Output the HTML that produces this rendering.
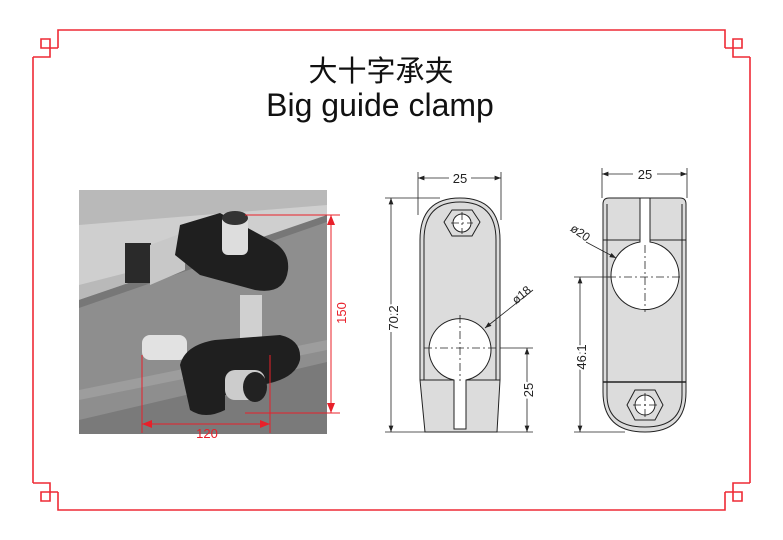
<!DOCTYPE html>
<html><head><meta charset="utf-8"><style>
html,body{margin:0;padding:0;background:#fff;}
svg{display:block}
text{font-family:"Liberation Sans","Noto Sans CJK SC",sans-serif;}
</style></head><body>
<svg width="783" height="540" viewBox="0 0 783 540" xmlns="http://www.w3.org/2000/svg">
<defs>
<marker id="ab" markerWidth="8" markerHeight="6" refX="8" refY="3" orient="auto-start-reverse"><path d="M0,0 L8,3 L0,6z" fill="#222"/></marker>
<marker id="ar" markerWidth="10" markerHeight="8" refX="10" refY="4" orient="auto-start-reverse" markerUnits="userSpaceOnUse"><path d="M0,0 L10,4 L0,8z" fill="#e8202a"/></marker>
</defs>
<g fill="none" stroke="#ee2a35" stroke-width="1.6">
<path d="M58,48 V30 H725 V48"/>
<path d="M58,492 V510 H725 V492"/>
<path d="M33,57 H50 V39 H41 V48 H58"/>
<path d="M33,57 V483"/>
<path d="M33,483 H50 V501 H41 V492 H58"/>
<path d="M750,57 H733 V39 H742 V48 H725"/>
<path d="M750,57 V483"/>
<path d="M750,483 H733 V501 H742 V492 H725"/>
</g>
<text x="381" y="81" font-size="29" text-anchor="middle" fill="#111">大十字承夹</text>
<text x="380" y="116" font-size="32" text-anchor="middle" fill="#111">Big guide clamp</text>
<!-- photo -->
<rect x="79" y="190" width="248" height="244" fill="#8e8e8e"/>
<polygon points="79,190 327,190 327,215 79,300" fill="#b9b9b9"/>
<polygon points="79,225 327,205 327,222 79,285" fill="#cfcfcf"/>
<polygon points="79,300 327,215 327,222 79,308" fill="#777"/>
<polygon points="79,390 327,340 327,350 79,400" fill="#9d9d9d"/>
<polygon points="79,420 327,362 327,434 79,434" fill="#7a7a7a"/>
<rect x="125" y="243" width="26" height="40" fill="#2a2a2a"/>
<polygon points="150,245 185,232 185,270 150,285" fill="#c8c8c8"/>
<path d="M180,225 L220,213 L270,240 Q290,250 288,270 Q285,295 255,290 L200,275 L175,255z" fill="#1f1f1f"/>
<rect x="222" y="215" width="26" height="40" rx="6" fill="#ddd"/>
<ellipse cx="235" cy="218" rx="13" ry="7" fill="#333"/>
<rect x="240" y="295" width="22" height="65" fill="#d0d0d0"/>
<rect x="142" y="335" width="45" height="25" rx="8" fill="#e2e2e2"/>
<path d="M180,365 Q185,345 215,340 L280,335 Q302,340 300,360 Q295,380 260,385 L225,395 L225,410 Q205,420 190,410z" fill="#1f1f1f"/>
<rect x="225" y="370" width="40" height="30" rx="10" fill="#ccc"/>
<ellipse cx="255" cy="387" rx="12" ry="15" fill="#222"/>
<g stroke="#e8202a" stroke-width="1" fill="none">
<line x1="245" y1="215" x2="340" y2="215"/>
<line x1="245" y1="413" x2="340" y2="413"/>
<line x1="331" y1="215" x2="331" y2="413" marker-start="url(#ar)" marker-end="url(#ar)"/>
<line x1="142" y1="355" x2="142" y2="433"/>
<line x1="270" y1="355" x2="270" y2="433"/>
<line x1="142" y1="424" x2="270" y2="424" marker-start="url(#ar)" marker-end="url(#ar)"/>
</g>
<text x="207" y="438" font-size="13" text-anchor="middle" fill="#e8202a">120</text>
<text transform="translate(346,313) rotate(-90)" font-size="13" text-anchor="middle" fill="#e8202a">150</text>
<!-- left drawing -->
<g stroke="#222" stroke-width="1" fill="#dcdcdc">
<path d="M420,240 Q420,198 460,198 Q500,198 500,240 L500,380 L497,432 L425,432 L420,380z"/>
</g>
<g stroke="#222" stroke-width="1" fill="none">
<path d="M424,240 Q424,202 460,202 Q496,202 496,240"/>
<line x1="420" y1="380" x2="500" y2="380"/>
<line x1="424" y1="240" x2="424" y2="380"/><line x1="496" y1="240" x2="496" y2="380"/>
</g>
<polygon points="452,210 472,210 480,222 472,236 452,236 444,222" fill="#dcdcdc" stroke="#222"/>
<circle cx="462" cy="223" r="9" fill="#fff" stroke="#222"/>
<path d="M454,380 A31,31 0 1 1 466,380 L466,429 L454,429z" fill="#fff" stroke="#222"/>
<g stroke="#222" stroke-width="0.8" stroke-dasharray="8,3,2,3" fill="none">
<line x1="424" y1="348" x2="497" y2="348"/><line x1="460" y1="315" x2="460" y2="381"/>
<line x1="462" y1="212" x2="462" y2="234"/><line x1="451" y1="223" x2="473" y2="223"/>
</g>
<g stroke="#222" stroke-width="0.8" fill="none">
<line x1="418" y1="172" x2="418" y2="215"/><line x1="501" y1="172" x2="501" y2="220"/>
<line x1="418" y1="178" x2="501" y2="178" marker-start="url(#ab)" marker-end="url(#ab)"/>
<line x1="385" y1="198" x2="440" y2="198"/><line x1="385" y1="432" x2="425" y2="432"/>
<line x1="391" y1="198" x2="391" y2="432" marker-start="url(#ab)" marker-end="url(#ab)"/>
<line x1="500" y1="348" x2="533" y2="348"/><line x1="497" y1="432" x2="533" y2="432"/>
<line x1="527" y1="348" x2="527" y2="432" marker-start="url(#ab)" marker-end="url(#ab)"/>
<line x1="533" y1="290" x2="485" y2="328" marker-end="url(#ab)"/>
</g>
<rect x="449" y="172" width="22" height="12" fill="#fff"/>
<text x="460" y="183" font-size="13" text-anchor="middle" fill="#222">25</text>
<text transform="translate(398,318) rotate(-90)" font-size="13" text-anchor="middle" fill="#222" style="paint-order:stroke" stroke="#fff" stroke-width="4">70.2</text>
<text transform="translate(533,390) rotate(-90)" font-size="13" text-anchor="middle" fill="#222" style="paint-order:stroke" stroke="#fff" stroke-width="4">25</text>
<text transform="translate(524,298) rotate(-40)" font-size="12" text-anchor="middle" fill="#222">ø18</text>
<!-- right drawing -->
<path d="M603,204 Q603,198 609,198 L680,198 Q686,198 686,204 L686,392 Q686,432 645,432 Q603,432 603,392z" fill="#dcdcdc" stroke="#222"/>
<g stroke="#222" fill="none">
<line x1="603" y1="240" x2="686" y2="240"/><line x1="603" y1="382" x2="686" y2="382" stroke-width="1.5"/>
<line x1="607" y1="204" x2="607" y2="382"/><line x1="682" y1="204" x2="682" y2="382"/>
<path d="M607,382 L607,395 Q607,427 645,427 Q682,427 682,395 L682,382"/>
</g>
<path d="M640,198 L650,198 L650,242 A34,34 0 1 1 640,242z" fill="#fff" stroke="#222"/>
<polygon points="635,390 655,390 663,405 655,420 635,420 627,405" fill="#dcdcdc" stroke="#222"/>
<circle cx="645" cy="405" r="10" fill="#fff" stroke="#222"/>
<g stroke="#222" stroke-width="0.8" stroke-dasharray="8,3,2,3" fill="none">
<line x1="608" y1="277" x2="682" y2="277"/><line x1="645" y1="245" x2="645" y2="312"/>
<line x1="645" y1="393" x2="645" y2="417"/><line x1="633" y1="405" x2="657" y2="405"/>
</g>
<g stroke="#222" stroke-width="0.8" fill="none">
<line x1="602" y1="168" x2="602" y2="198"/><line x1="687" y1="168" x2="687" y2="198"/>
<line x1="602" y1="174" x2="687" y2="174" marker-start="url(#ab)" marker-end="url(#ab)"/>
<line x1="574" y1="277" x2="610" y2="277"/><line x1="574" y1="432" x2="625" y2="432"/>
<line x1="580" y1="277" x2="580" y2="432" marker-start="url(#ab)" marker-end="url(#ab)"/>
<line x1="586" y1="242" x2="616" y2="258" marker-end="url(#ab)"/>
</g>
<rect x="633" y="168" width="24" height="12" fill="#fff"/>
<text x="645" y="179" font-size="13" text-anchor="middle" fill="#222">25</text>
<text transform="translate(586,357) rotate(-90)" font-size="13" text-anchor="middle" fill="#222" style="paint-order:stroke" stroke="#fff" stroke-width="4">46.1</text>
<text transform="translate(578,236) rotate(35)" font-size="12" text-anchor="middle" fill="#222">ø20</text>
</svg>
</body></html>
